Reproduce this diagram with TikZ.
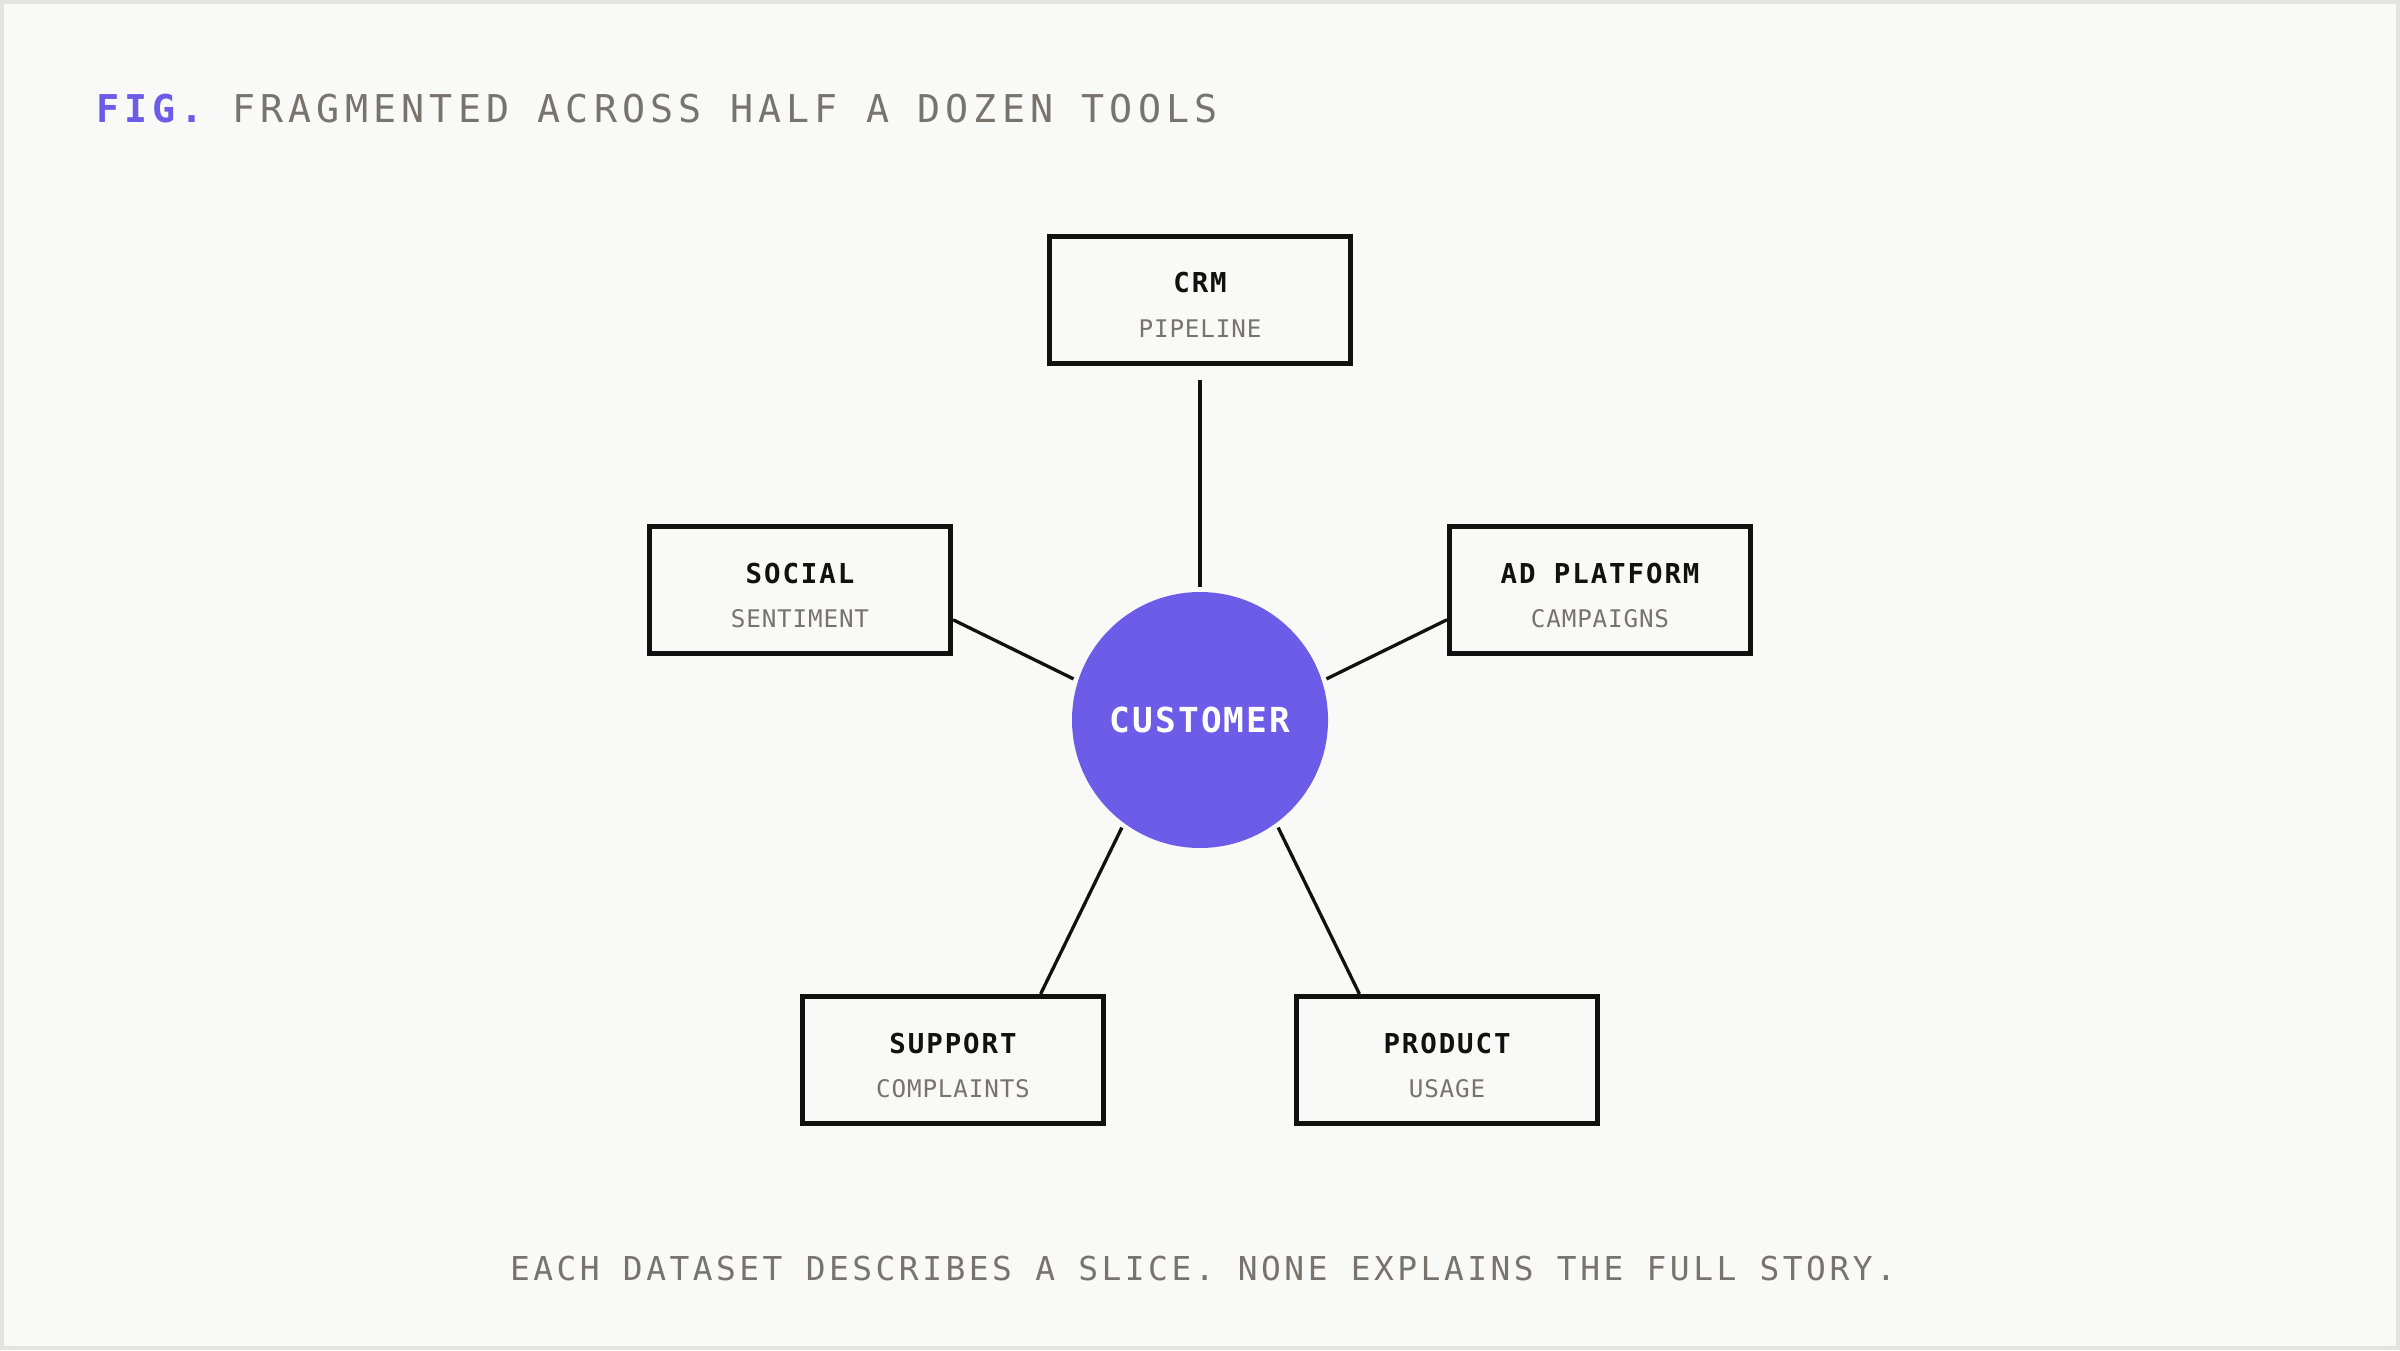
\documentclass[tikz,border=0pt]{standalone}
\usepackage{fontspec}
\setmonofont{DejaVu Sans Mono}
\newfontfamily\titlemono[LetterSpace=13.5]{DejaVu Sans Mono}
\newfontfamily\capmono[LetterSpace=10.6]{DejaVu Sans Mono}
\newfontfamily\labelmono[LetterSpace=7]{DejaVu Sans Mono}
\newfontfamily\submono[LetterSpace=3.5]{DejaVu Sans Mono}
\newfontfamily\hubmono[LetterSpace=6]{DejaVu Sans Mono}
\usepackage{xcolor}
\definecolor{figpurple}{RGB}{108,92,231}
\definecolor{inkgray}{RGB}{120,115,109}
\definecolor{boxblack}{RGB}{17,17,17}
\definecolor{paper}{RGB}{249,249,247}
\definecolor{edgegray}{RGB}{228,227,224}
\usepackage{tikz}

\begin{document}
\begin{tikzpicture}[
    toolbox/.style={draw=boxblack, line width=0.05cm, fill=paper,
                minimum width=3.01cm, minimum height=1.27cm, inner sep=0pt},
    tooltitle/.style={anchor=base, inner sep=0pt, text=boxblack,
                font=\labelmono\bfseries\fontsize{7.8pt}{9pt}\selectfont},
    toolsub/.style={anchor=base, inner sep=0pt, text=inkgray,
                font=\submono\fontsize{6.9pt}{8pt}\selectfont},
    hub/.style={circle, fill=figpurple, minimum size=2.56cm, inner sep=0pt,
                outer sep=0.05cm, text=white, text height=0.25cm, text depth=0pt,
                font=\hubmono\bfseries\fontsize{9.8pt}{11pt}\selectfont},
    link/.style={draw=boxblack, line width=0.033cm}
  ]
    \useasboundingbox (0,0) rectangle (24,13.5);
    \draw[fill=paper, draw=edgegray, line width=0.04cm] (0.02,0.02) rectangle (23.98,13.48);

    % Heading
    \node[anchor=base west, inner sep=0pt, text=inkgray,
          font=\titlemono\fontsize{10.9pt}{13pt}\selectfont] (heading) at (0.955, 12.27)
      {\textcolor{figpurple}{\bfseries FIG.} FRAGMENTED ACROSS HALF A DOZEN TOOLS};

    % Customer hub
    \node[hub] (hub) at (12, 6.3) {CUSTOMER};

    % Tool boxes
    \node[toolbox] (crm)     at (12, 10.5)   {};
    \node[toolbox] (social)  at (8, 7.6)     {};
    \node[toolbox] (ad)      at (16, 7.6)    {};
    \node[toolbox] (support) at (9.53, 2.9)  {};
    \node[toolbox] (product) at (14.47, 2.9) {};

    \node[tooltitle] (crm-title)     at ([yshift=0.07cm]crm.center)     {CRM};
    \node[toolsub]   (crm-sub)       at ([yshift=-0.37cm]crm.center)    {PIPELINE};
    \node[tooltitle] (social-title)  at ([yshift=0.07cm]social.center)  {SOCIAL};
    \node[toolsub]   (social-sub)    at ([yshift=-0.37cm]social.center) {SENTIMENT};
    \node[tooltitle] (ad-title)      at ([yshift=0.07cm]ad.center)      {AD PLATFORM};
    \node[toolsub]   (ad-sub)        at ([yshift=-0.37cm]ad.center)     {CAMPAIGNS};
    \node[tooltitle] (support-title) at ([yshift=0.07cm]support.center) {SUPPORT};
    \node[toolsub]   (support-sub)   at ([yshift=-0.37cm]support.center) {COMPLAINTS};
    \node[tooltitle] (product-title) at ([yshift=0.07cm]product.center) {PRODUCT};
    \node[toolsub]   (product-sub)   at ([yshift=-0.37cm]product.center) {USAGE};

    % Spokes
    \draw[link, shorten >=0.14cm] (hub.north) -- (crm.south);
    \draw[link] (hub.162) -- (social.-11.5);
    \draw[link] (hub.18)  -- (ad.191.5);
    \draw[link] (hub.234) -- (support.37);
    \draw[link] (hub.306) -- (product.143);

    % Caption
    \node[anchor=base, inner sep=0pt, text=inkgray,
          font=\capmono\fontsize{9.36pt}{11pt}\selectfont] (caption) at (12.03, 0.70)
      {EACH DATASET DESCRIBES A SLICE. NONE EXPLAINS THE FULL STORY.};
  \end{tikzpicture}
\end{document}
